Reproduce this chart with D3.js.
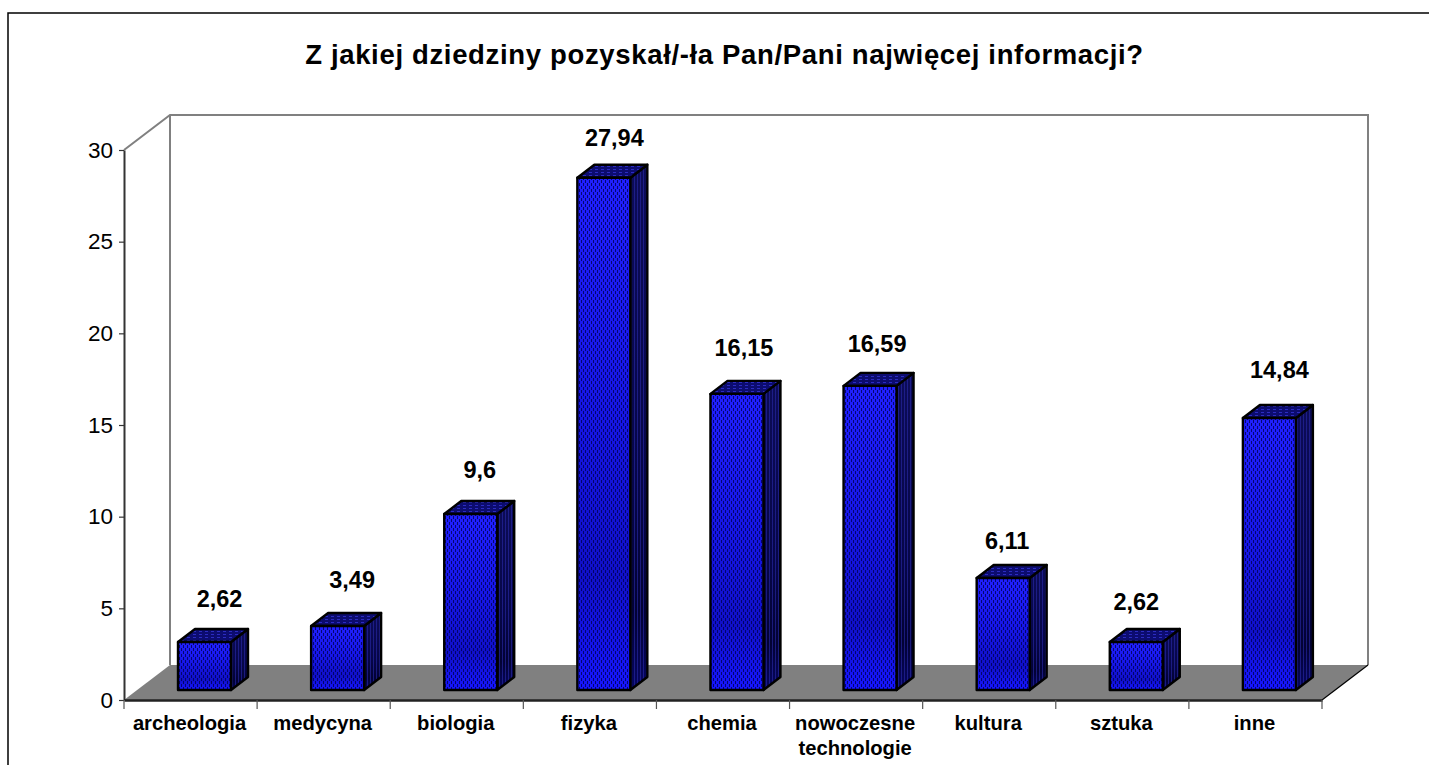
<!DOCTYPE html>
<html><head><meta charset="utf-8">
<script src="https://cdnjs.cloudflare.com/ajax/libs/d3/7.8.5/d3.min.js"></script>
<style>html,body{margin:0;padding:0;background:#fff;overflow:hidden}svg{display:block}text{font-family:"Liberation Sans",Arial,sans-serif;fill:#000}</style>
</head><body><script>
const titleText = "Z jakiej dziedziny pozyskał/-ła Pan/Pani najwięcej informacji?";
const categories = ["archeologia","medycyna","biologia","fizyka","chemia","nowoczesne technologie","kultura","sztuka","inne"];
const values = [2.62,3.49,9.6,27.94,16.15,16.59,6.11,2.62,14.84];
const valueLabels = ["2,62","3,49","9,6","27,94","16,15","16,59","6,11","2,62","14,84"];
const yTicks = [0,5,10,15,20,25,30];

const W=1429,H=765;
const svg=d3.select("body").append("svg").attr("width",W).attr("height",H);
const defs=svg.append("defs");

const y=d3.scaleLinear().domain([0,30]).range([700,150]);
const x=d3.scaleBand().domain(categories).range([124,1322]);
const depthX=46, depthY=-35;          // floor / wall depth
const barLift=10, barDX=54, barW=53;  // bar placement within a band
const sideX=17, sideY=-13;            // bar depth
// hand placement of the data labels in the source chart
const nudgeX=[15,14.5,9,10.5,7,7,4,0,10], nudgeY=[35,38,36,32,38,34,29,32,40];

function grad(id,stops){
  const g=defs.append("linearGradient").attr("id",id).attr("x1",0).attr("y1",0).attr("x2",0).attr("y2",1);
  stops.forEach(s=>g.append("stop").attr("offset",s[0]).attr("stop-color",s[1]));
}
grad("frontG",[[0,"#2020ff"],[.45,"#1616e6"],[.78,"#1010c8"],[1,"#1616ff"]]);
grad("sideG",[[0,"#0c0c58"],[.6,"#060648"],[.85,"#020234"],[1,"#060660"]]);

const pf=defs.append("pattern").attr("id","frontP").attr("patternUnits","userSpaceOnUse").attr("width",4).attr("height",6);
pf.append("rect").attr("x",1).attr("y",0).attr("width",1).attr("height",3).attr("fill","#000050").attr("opacity",.8);
pf.append("rect").attr("x",3).attr("y",3).attr("width",1).attr("height",3).attr("fill","#000050").attr("opacity",.8);
const ps=defs.append("pattern").attr("id","sideP").attr("patternUnits","userSpaceOnUse").attr("width",3).attr("height",6);
ps.append("rect").attr("x",1).attr("y",0).attr("width",1).attr("height",6).attr("fill","#2a2aa8").attr("opacity",.6);
const pt=defs.append("pattern").attr("id","topP").attr("patternUnits","userSpaceOnUse").attr("width",6).attr("height",3);
pt.append("rect").attr("width",6).attr("height",3).attr("fill","#0c0c70");
pt.append("rect").attr("x",1).attr("y",1).attr("width",3).attr("height",1).attr("fill","#2c2cc0");

// frame
svg.append("path").attr("d",`M8,${H}V13H${W}`).attr("fill","none").attr("stroke","#000").attr("stroke-width",1.5);

svg.append("text").attr("x",724.5).attr("y",64).attr("text-anchor","middle")
  .style("font-weight","bold").style("font-size","27.5px").style("letter-spacing","0.66px").text(titleText);

// walls and floor
const x0=124,x1=1322,yTop=y(30),yBase=y(0);
svg.append("polygon").attr("fill","#808080")
  .attr("points",[[x0,yBase],[x0+depthX,yBase+depthY],[x1+depthX,yBase+depthY],[x1,yBase]].join(" "));
svg.append("path").attr("fill","none").attr("stroke","#808080").attr("stroke-width",2)
  .attr("d",`M${x0},${yTop}L${x0+depthX},${yTop+depthY}H${x1+depthX}V${yBase+depthY}M${x0+depthX},${yTop+depthY}V${yBase+depthY}`);
svg.append("line").attr("x1",x1).attr("y1",yBase).attr("x2",x1+depthX).attr("y2",yBase+depthY).attr("stroke","#000").attr("stroke-width",1.2);

// bars
const bars=svg.append("g").selectAll("g").data(categories).join("g");
const edge=s=>s.attr("stroke","#000").attr("stroke-width",2.4).attr("stroke-linejoin","round");
bars.each(function(c,i){
  const g=d3.select(this), l=x(c)+barDX, r=l+barW, b=yBase-barLift, t=y(values[i])-barLift;
  const side=[[r,b],[r+sideX,b+sideY],[r+sideX,t+sideY],[r,t]].join(" ");
  const top=[[l,t],[l+sideX,t+sideY],[r+sideX,t+sideY],[r,t]].join(" ");
  g.append("polygon").attr("points",side).attr("fill","url(#sideG)");
  g.append("polygon").attr("points",side).attr("fill","url(#sideP)").call(edge);
  g.append("polygon").attr("points",top).attr("fill","url(#topP)").call(edge);
  g.append("rect").attr("x",l).attr("y",t).attr("width",barW).attr("height",b-t).attr("fill","url(#frontG)");
  g.append("rect").attr("x",l).attr("y",t).attr("width",barW).attr("height",b-t).attr("fill","url(#frontP)").call(edge);
  g.append("text").attr("x",l+barW/2+nudgeX[i]).attr("y",t-nudgeY[i]).attr("text-anchor","middle")
    .style("font-weight","bold").style("font-size","23.5px").text(valueLabels[i]);
});

// y axis
const ya=svg.append("g").attr("transform",`translate(${x0},0)`)
  .call(d3.axisLeft(y).tickValues(yTicks).tickSize(5).tickPadding(6).tickSizeOuter(0));
ya.select(".domain").attr("stroke","#333").attr("stroke-width",2);
ya.selectAll(".tick line").attr("stroke","#333").attr("stroke-width",1.2);
ya.selectAll("text").style("font-size","22.5px").style("font-family",'"Liberation Sans",Arial,sans-serif');

// x axis
const xa=svg.append("g").attr("transform",`translate(0,${yBase})`)
  .call(d3.axisBottom(x).tickSize(0).tickPadding(0).tickFormat(""));
xa.selectAll("text").remove();
xa.select(".domain").attr("stroke","#222").attr("stroke-width",2.5);
const edges=categories.map(c=>x(c)).concat([x1]);
svg.append("g").selectAll("line").data(edges).join("line")
  .attr("x1",d=>d).attr("x2",d=>d).attr("y1",yBase).attr("y2",yBase+9).attr("stroke","#555").attr("stroke-width",1.2);
const cat=svg.append("g").selectAll("text").data(categories).join("text")
  .attr("text-anchor","middle").attr("y",730).style("font-weight","bold").style("font-size","20.2px");
cat.each(function(c){
  const t=d3.select(this), cx=x(c)+x.bandwidth()/2-1;
  c.split(" ").forEach((w,k)=>t.append("tspan").attr("x",cx).attr("dy",k?25:0).text(w));
});
</script></body></html>
